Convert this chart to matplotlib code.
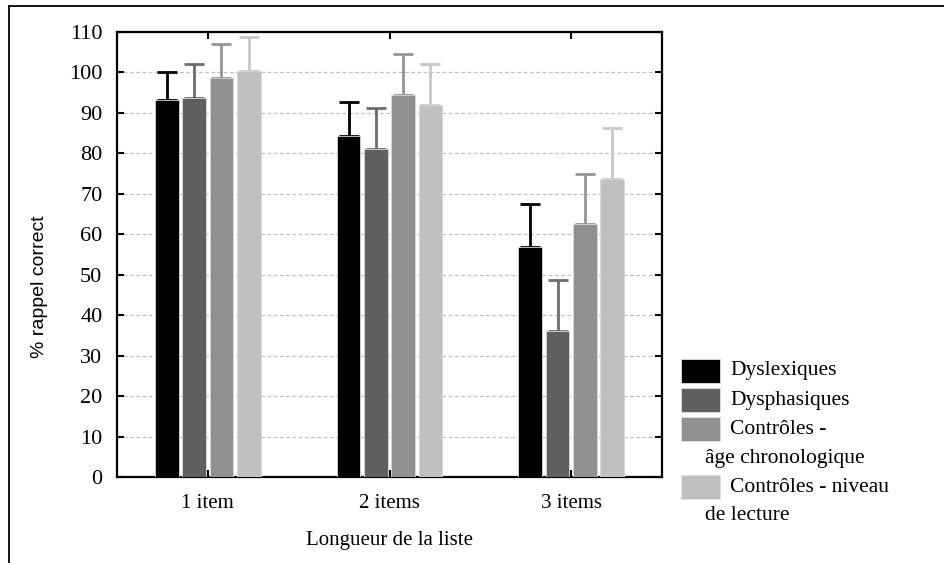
import numpy as np
import matplotlib.pyplot as plt
from matplotlib.lines import Line2D
from matplotlib.patches import Rectangle

categories = ["1 item", "2 items", "3 items"]
series = ["Dyslexiques", "Dysphasiques", "Contrôles - âge chronologique", "Contrôles - niveau de lecture"]
legend_lines = [["Dyslexiques"], ["Dysphasiques"], ["Contrôles -", "âge chronologique"], ["Contrôles - niveau", "de lecture"]]

means = {
    "Dyslexiques": [93.2, 84.2, 56.9],
    "Dysphasiques": [93.6, 81.2, 36.2],
    "Contrôles - âge chronologique": [98.6, 94.5, 62.5],
    "Contrôles - niveau de lecture": [100.3, 92.0, 73.6],
}
err_tops = {
    "Dyslexiques": [100.2, 92.7, 67.5],
    "Dysphasiques": [102.0, 91.1, 48.8],
    "Contrôles - âge chronologique": [107.0, 104.5, 75.0],
    "Contrôles - niveau de lecture": [108.7, 102.1, 86.3],
}

bar_colors = ["#000000", "#606060", "#909090", "#c0c0c0"]
err_colors = ["#000000", "#6c6c6c", "#959595", "#c8c8c8"]

plt.rcParams["font.family"] = ["Liberation Serif", "DejaVu Serif"]

fig = plt.figure(figsize=(9.45, 5.63), dpi=100)
ax = fig.add_axes([117 / 945, 1 - 477 / 563, 545 / 945, 445 / 563])

x = np.arange(len(categories))
offsets = [-0.225, -0.075, 0.075, 0.225]
for i, name in enumerate(series):
    m = np.array(means[name])
    up = np.array(err_tops[name]) - m
    ax.bar(x + offsets[i], m, width=0.13, color=bar_colors[i],
           edgecolor="#d8d8d8", linewidth=0.6, zorder=3)
    ax.errorbar(x + offsets[i], m, yerr=[np.zeros_like(up), up], fmt="none",
                ecolor=err_colors[i], elinewidth=2, capsize=7, capthick=2, zorder=2)

ax.set_xlim(-0.5, 2.5)
ax.set_ylim(0, 110)
ax.set_yticks(np.arange(0, 111, 10))
ax.set_xticks(x)
ax.set_xticklabels(categories)
ax.tick_params(axis="both", direction="in", width=1.5, length=5,
               top=True, right=True)
ax.tick_params(axis="x", pad=12, labelsize=15)
ax.tick_params(axis="y", pad=10.5, labelsize=16)
ax.yaxis.grid(True, linestyle=(0, (3, 2)), color="#c0c0c0", linewidth=0.9, zorder=0)
ax.set_axisbelow(True)
for s in ax.spines.values():
    s.set_linewidth(1.6)

ax.set_xlabel("Longueur de la liste", fontsize=15, labelpad=13)
fig.text(40 / 945, 1 - 287 / 563, "% rappel correct", rotation=90, fontsize=14,
         family=["Liberation Sans", "DejaVu Sans"], ha="center", va="center")

# legend drawn by hand to keep the wrapped lines
row_y = 371
for i, lines in enumerate(legend_lines):
    fig.patches.append(Rectangle((681 / 945, 1 - (row_y + 12) / 563), 39 / 945, 24 / 563,
                                 transform=fig.transFigure, facecolor=bar_colors[i],
                                 edgecolor="#e0e0e0", linewidth=0.6))
    for j, line in enumerate(lines):
        lx = 730 if j == 0 else 705
        fig.text(lx / 945, 1 - row_y / 563, line, fontsize=15.5, va="center", ha="left")
        row_y += 29

# outer frame, cut off on the right and bottom
fig.add_artist(Line2D([9 / 945, 1], [1 - 6 / 563, 1 - 6 / 563], transform=fig.transFigure,
                      color="black", linewidth=1.3))
fig.add_artist(Line2D([9 / 945, 9 / 945], [0, 1 - 6 / 563], transform=fig.transFigure,
                      color="black", linewidth=1.3))

fig.savefig("out.png", dpi=100)
